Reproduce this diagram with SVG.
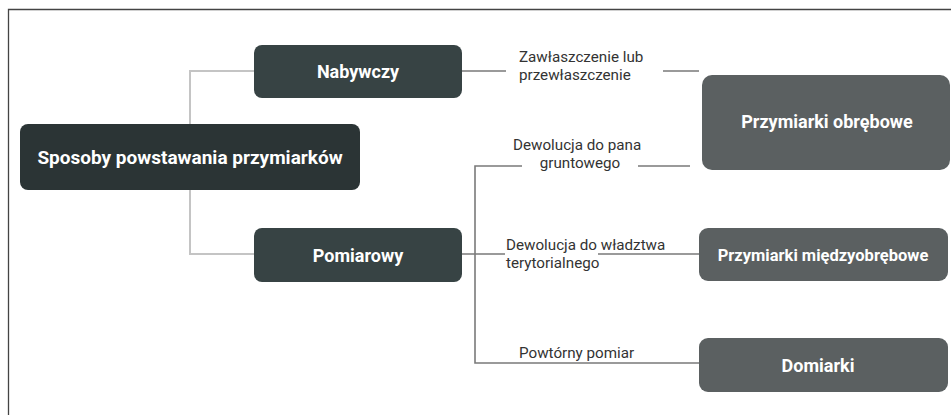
<svg xmlns="http://www.w3.org/2000/svg" width="951" height="415" viewBox="0 0 951 415">
<style>
.lt{fill:none;stroke:#c4c4c4;stroke-width:2}
.dk{fill:none;stroke:#7a7a7a;stroke-width:1.6}
.t{font-family:Roboto,"Liberation Sans",sans-serif;font-weight:bold;fill:#ffffff;text-anchor:middle}
.l{font-family:Roboto,"Liberation Sans",sans-serif;font-size:15.2px;fill:#333333}
</style>
<rect x="0" y="0" width="951" height="415" fill="#ffffff"/>
<path d="M8.5,415 V9.5 H951" fill="none" stroke="#444" stroke-width="1.3"/>
<g id="connectors">
<path class="lt" d="M254,71 H190 V124 M190,190 V254 H254"/>
<path class="dk" d="M462,71 H506 M663,71 H699"/>
<path class="dk" d="M522,166 H475 V363 H699 M638,166 H690"/>
<path class="dk" d="M462,254 H505 M598,254 H699"/>
</g>
<g id="labels">
<text class="l" x="519" y="62">Zawłaszczenie lub</text>
<text class="l" x="519" y="80">przewłaszczenie</text>
<text class="l" x="513" y="150">Dewolucja do pana</text>
<text class="l" x="580" y="168" text-anchor="middle">gruntowego</text>
<text class="l" x="506" y="250">Dewolucja do władztwa</text>
<text class="l" x="506" y="268">terytorialnego</text>
<text class="l" x="519" y="358">Powtórny pomiar</text>
</g>
<g id="root">
<rect x="20" y="124" width="340" height="66" rx="8" fill="#2b3435"/>
<text class="t" x="190" y="164" font-size="19">Sposoby powstawania przymiarków</text>
</g>
<g id="nabywczy">
<rect x="254" y="45" width="208" height="53" rx="8" fill="#374344"/>
<text class="t" x="358" y="78" font-size="18">Nabywczy</text>
</g>
<g id="pomiarowy">
<rect x="254" y="228" width="208" height="54" rx="8" fill="#374344"/>
<text class="t" x="358" y="262" font-size="18">Pomiarowy</text>
</g>
<g id="obrebowe">
<rect x="702" y="75" width="248" height="95" rx="10" fill="#5b6061"/>
<text class="t" x="827" y="128" font-size="18">Przymiarki obrębowe</text>
</g>
<g id="miedzyobrebowe">
<rect x="699" y="228" width="249" height="53" rx="9" fill="#5b6061"/>
<text class="t" x="823" y="261" font-size="16.5">Przymiarki międzyobrębowe</text>
</g>
<g id="domiarki">
<rect x="699" y="338" width="249" height="54" rx="9" fill="#5b6061"/>
<text class="t" x="818" y="372" font-size="18">Domiarki</text>
</g>
</svg>
